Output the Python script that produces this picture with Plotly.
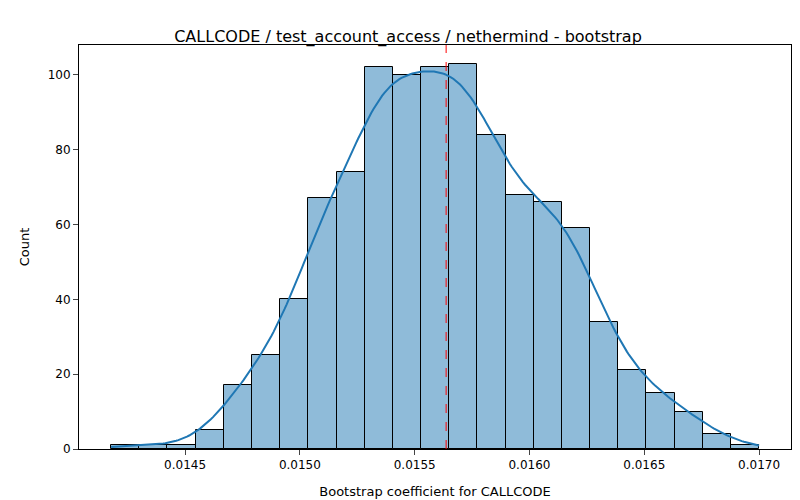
import numpy as np
import plotly.graph_objects as go

# histogram
bin_start = 0.014178
bin_width = 0.0001227
counts = [1, 1, 1, 5, 17, 25, 40, 67, 74, 102, 100, 102, 103, 84, 68, 66, 59, 34, 21, 15, 10, 4, 1]
mean_value = 0.015637
x_ticks = [0.0145, 0.0150, 0.0155, 0.0160, 0.0165, 0.0170]

centers = bin_start + bin_width * (np.arange(len(counts)) + 0.5)

# kde from the binned data (Gaussian, Scott bandwidth), scaled to counts
w = np.array(counts, dtype=float)
n = w.sum()
mu = (centers * w).sum() / n
sd = np.sqrt(((centers - mu) ** 2 * w).sum() / n)
bw = sd * n ** (-1 / 5)
grid = np.linspace(centers[0] - bin_width / 2, centers[-1] + bin_width / 2, 300)
dens = (w[:, None] * np.exp(-0.5 * ((grid[None, :] - centers[:, None]) / bw) ** 2)).sum(0)
dens = dens / (n * bw * np.sqrt(2 * np.pi)) * n * bin_width

fig = go.Figure()
fig.add_trace(go.Bar(
    x=centers, y=counts, width=bin_width,
    marker=dict(color="rgba(31,119,180,0.5)", line=dict(color="black", width=1)),
))
fig.add_trace(go.Scatter(x=grid, y=dens, mode="lines", line=dict(color="#1f77b4", width=2)))
fig.add_shape(type="line", x0=mean_value, x1=mean_value, y0=0, y1=1, yref="paper",
              line=dict(color="red", width=1, dash="dash"))

axis = dict(showline=True, linecolor="black", mirror=True, ticks="outside",
            showgrid=False, zeroline=False, tickfont=dict(size=12, color="black"))
fig.update_layout(
    width=800, height=500,
    margin=dict(l=71, r=17, t=37, b=59),
    plot_bgcolor="white", paper_bgcolor="white",
    showlegend=False, bargap=0,
    font=dict(family="DejaVu Sans", color="black"),
    title=dict(text="CALLCODE / test_account_access / nethermind - bootstrap",
               x=0.5, xanchor="center", y=0.955, font=dict(size=16)),
    xaxis=dict(axis, range=[0.014038, 0.017139], tickvals=x_ticks,
               tickformat=".4f", title=dict(text="Bootstrap coefficient for CALLCODE", font=dict(size=13))),
    yaxis=dict(axis, range=[0, 108], dtick=20, title=dict(text="Count", font=dict(size=13))),
)
fig.write_html("out.html")
